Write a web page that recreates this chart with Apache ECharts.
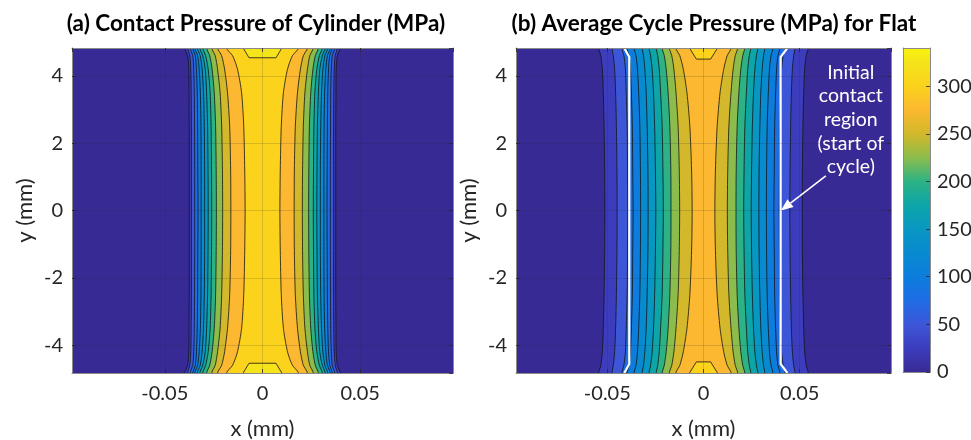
<!DOCTYPE html>
<html><head><meta charset="utf-8">
<script src="https://cdn.jsdelivr.net/npm/echarts@6/dist/echarts.min.js"></script>
<style>html,body{margin:0;padding:0;background:#fff}#c{width:971px;height:440px}</style>
</head><body><div id="c"></div>
<script>
// ---------------- data ----------------
const titles = ['(a) Contact Pressure of Cylinder (MPa)', '(b) Average Cycle Pressure (MPa) for Flat'];
const xRange = [-0.0975, 0.0975];          // x (mm)
const yRange = [-4.83, 4.83];              // y (mm)
const yAbs = [0, 1.2, 2.5, 3.5, 4.2, 4.6, 4.83];   // |y| rows where contour half-widths were read (mm)

// (a) cylinder: contour levels (MPa) and their half-width |x| (mm) at each yAbs row
const cylLevels = [25, 50, 75, 100, 125, 150, 175, 200, 225, 250, 275, 300];
const cylHalfWidth = [
  [0.0375, 0.0375, 0.0375, 0.0376, 0.0377, 0.0383, 0.0398],
  [0.0364, 0.0364, 0.0364, 0.0365, 0.0367, 0.0372, 0.0383],
  [0.0347, 0.0347, 0.0348, 0.0349, 0.0352, 0.0357, 0.0370],
  [0.0330, 0.0331, 0.0332, 0.0334, 0.0338, 0.0344, 0.0357],
  [0.0314, 0.0314, 0.0315, 0.0318, 0.0324, 0.0332, 0.0347],
  [0.0296, 0.0296, 0.0298, 0.0302, 0.0309, 0.0319, 0.0334],
  [0.0278, 0.0279, 0.0281, 0.0286, 0.0293, 0.0306, 0.0321],
  [0.0260, 0.0261, 0.0263, 0.0268, 0.0278, 0.0291, 0.0306],
  [0.0236, 0.0237, 0.0240, 0.0247, 0.0258, 0.0270, 0.0286],
  [0.0204, 0.0205, 0.0209, 0.0217, 0.0230, 0.0242, 0.0260],
  [0.0162, 0.0163, 0.0168, 0.0179, 0.0194, 0.0209, 0.0230],
  [0.0089, 0.0091, 0.0096, 0.0107, 0.0128, 0.0153, 0.0184]
];
const cylCapLevel = 325;                  // small end caps at y = +/-4.83
const cylCapY = [4.54, 4.83];
const cylCapHalfWidth = [0.0069, 0.0099];

// (b) flat: contour levels (MPa) and half-widths (mm)
const flatLevels = [25, 50, 75, 100, 125, 150, 175, 200, 225, 250, 275];
const flatHalfWidth = [
  [0.0513, 0.0514, 0.0517, 0.0521, 0.0526, 0.0534, 0.0545],
  [0.0449, 0.0450, 0.0453, 0.0457, 0.0462, 0.0469, 0.0476],
  [0.0394, 0.0395, 0.0397, 0.0402, 0.0406, 0.0414, 0.0424],
  [0.0366, 0.0368, 0.0370, 0.0375, 0.0380, 0.0387, 0.0398],
  [0.0327, 0.0328, 0.0331, 0.0337, 0.0343, 0.0351, 0.0361],
  [0.0288, 0.0289, 0.0293, 0.0298, 0.0305, 0.0312, 0.0319],
  [0.0248, 0.0250, 0.0254, 0.0260, 0.0267, 0.0275, 0.0283],
  [0.0209, 0.0211, 0.0215, 0.0223, 0.0230, 0.0238, 0.0246],
  [0.0169, 0.0170, 0.0175, 0.0184, 0.0194, 0.0204, 0.0215],
  [0.0124, 0.0126, 0.0132, 0.0143, 0.0154, 0.0165, 0.0178],
  [0.0059, 0.0062, 0.0071, 0.0086, 0.0105, 0.0123, 0.0144]
];
const flatCapLevel = 300;
const flatCapY = [4.5, 4.83];
const flatCapHalfWidth = [0.0037, 0.0073];

// initial contact region boundary (white line) in (b)
const initY = [-4.83, -4.56, 4.56, 4.83];
const initLeftX = [-0.0412, -0.0386, -0.0386, -0.0412];
const initRightX = [0.0436, 0.0401, 0.0401, 0.0436];
const annotText = ['Initial', 'contact', 'region', '(start of', 'cycle)'];
const annotAt = [0.0766, 2.70];
const arrowFrom = [0.0636, 1.03];
const arrowTo = [0.0403, 0.0];

// colour bar
const cbarMin = 0, cbarMax = 340, cbarStep = 50;

// ---------------- style ----------------
const cmapStops = [
  [0, '#382a95'], [25, '#3b3dbd'], [50, '#3d56d8'], [75, '#1f6de5'], [100, '#0c7ddd'],
  [125, '#088ad0'], [150, '#0897c2'], [175, '#0da5a8'], [200, '#2cb284'], [225, '#8cbd4c'],
  [250, '#d2b82a'], [275, '#fbb830'], [300, '#fbd21c'], [325, '#f5e41a'], [340, '#f9f30e']
];
const FONT = 'Lato, "Open Sans", sans-serif';
const TXT = '#262626';
const FRAME = '#8a8a8a';
const LINE = '#141414';
const TICK_FS = 20, NAME_FS = 22, TITLE_FS = 22.5;

function hex2rgb(h) { return [1, 3, 5].map(i => parseInt(h.substr(i, 2), 16)); }
function colorAt(v) {
  for (let i = 0; i < cmapStops.length - 1; i++) {
    const [a, ca] = cmapStops[i], [b, cb] = cmapStops[i + 1];
    if (v >= a && v <= b) {
      const t = (v - a) / (b - a), p = hex2rgb(ca), q = hex2rgb(cb);
      return 'rgb(' + p.map((x, k) => Math.round(x + (q[k] - x) * t)).join(',') + ')';
    }
  }
  return cmapStops[cmapStops.length - 1][1];
}

// full y list (bottom -> top) and the row index into yAbs for each
const yRows = [];
for (let k = yAbs.length - 1; k >= 1; k--) yRows.push([-yAbs[k], k]);
for (let k = 0; k < yAbs.length; k++) yRows.push([yAbs[k], k]);
const EXT = 5.6; // beyond plot edge (clipped)

function contourRenderer(levels, hw, capLevel, capY, capHW, extra) {
  return function (params, api) {
    const fills = [], lines = [];
    const last = yAbs.length - 1;
    levels.forEach((lvl, i) => {
      const w = hw[i];
      const left = [api.coord([-w[last], -EXT])].concat(yRows.map(([y, k]) => api.coord([-w[k], y])), [api.coord([-w[last], EXT])]);
      const right = [api.coord([w[last], EXT])].concat(yRows.slice().reverse().map(([y, k]) => api.coord([w[k], y])), [api.coord([w[last], -EXT])]);
      fills.push({ type: 'polygon', shape: { points: left.concat(right), smooth: 0.25 }, style: { fill: colorAt(lvl), stroke: null } });
      lines.push({ type: 'polyline', shape: { points: left, smooth: 0.25 }, style: { stroke: LINE, lineWidth: 0.8, fill: null } });
      lines.push({ type: 'polyline', shape: { points: right, smooth: 0.25 }, style: { stroke: LINE, lineWidth: 0.8, fill: null } });
    });
    [1, -1].forEach(s => {
      const pts = [api.coord([-capHW[1], s * EXT]), api.coord([-capHW[1], s * capY[1]]), api.coord([-capHW[0], s * capY[0]]),
                   api.coord([capHW[0], s * capY[0]]), api.coord([capHW[1], s * capY[1]]), api.coord([capHW[1], s * EXT])];
      fills.push({ type: 'polygon', shape: { points: pts }, style: { fill: colorAt(capLevel) } });
      lines.push({ type: 'polyline', shape: { points: pts.slice(1, 5) }, style: { stroke: LINE, lineWidth: 0.8, fill: null } });
    });
    const children = fills.concat(lines);
    if (extra) extra(api, children);
    return { type: 'group', children };
  };
}

function flatExtras(api, children) {
  [initLeftX, initRightX].forEach(xs => {
    children.push({ type: 'polyline', shape: { points: initY.map((y, i) => api.coord([xs[i], y])) },
      style: { stroke: '#ffffff', lineWidth: 2.2, fill: null } });
  });
  const a = api.coord(arrowFrom), b = api.coord(arrowTo);
  const dx = b[0] - a[0], dy = b[1] - a[1], L = Math.hypot(dx, dy), ux = dx / L, uy = dy / L;
  const hl = 12, hwid = 5;
  const base = [b[0] - ux * hl, b[1] - uy * hl];
  children.push({ type: 'line', shape: { x1: a[0], y1: a[1], x2: base[0], y2: base[1] }, style: { stroke: '#fff', lineWidth: 1.6 } });
  children.push({ type: 'polygon', shape: { points: [b, [base[0] - uy * hwid, base[1] + ux * hwid], [base[0] + uy * hwid, base[1] - ux * hwid]] }, style: { fill: '#fff' } });
  const t = api.coord(annotAt);
  children.push({ type: 'text', x: t[0], y: t[1], style: { text: annotText.join('\n'), fill: '#fff', font: '19.5px ' + FONT, align: 'center', verticalAlign: 'middle', lineHeight: 23.7 } });
}

function cbarRender(params, api) {
  const p0 = api.coord([0, cbarMax]), p1 = api.coord([1, cbarMin]);
  return { type: 'rect', shape: { x: p0[0], y: p0[1], width: p1[0] - p0[0], height: p1[1] - p0[1] },
    style: { fill: new echarts.graphic.LinearGradient(0, 1, 0, 0, cmapStops.map(([v, c]) => ({ offset: (v - cbarMin) / (cbarMax - cbarMin), color: c }))) } };
}

const chart = echarts.init(document.getElementById('c'), null, { renderer: 'canvas' });
const grids = [
  { left: 72, top: 48, width: 381, height: 325 },
  { left: 516, top: 48, width: 375, height: 325 },
  { left: 903, top: 48, width: 27, height: 324 }
].map(g => Object.assign(g, { show: true, backgroundColor: colorAt(0), borderWidth: 0, containLabel: false, outerBoundsMode: 'none' }));
grids[2].backgroundColor = 'transparent';

const tickInside = { show: true, inside: true, length: 4, lineStyle: { color: TXT, width: 0.8 } };
const axLine = { show: true, onZero: false, lineStyle: { color: FRAME, width: 1 } };
const gridLine = { show: true, lineStyle: { color: 'rgba(40,40,40,0.16)', width: 1 } };
const lab = { color: TXT, fontFamily: FONT, fontSize: TICK_FS, showMinLabel: false, showMaxLabel: false };
const nameStyle = { color: TXT, fontFamily: FONT, fontSize: NAME_FS };

function xAx(gi, pos, main) {
  return { type: 'value', gridIndex: gi, position: pos, min: xRange[0], max: xRange[1], splitNumber: 4, z: 10,
    axisLine: axLine, axisTick: tickInside, splitLine: main ? gridLine : { show: false },
    axisLabel: main ? Object.assign({ margin: 11 }, lab) : { show: false },
    name: main ? 'x (mm)' : '', nameLocation: 'middle', nameGap: 45, nameTextStyle: nameStyle };
}
function yAx(gi, pos, main) {
  return { type: 'value', gridIndex: gi, position: pos, min: yRange[0], max: yRange[1], splitNumber: 5, z: 10,
    axisLine: axLine, axisTick: tickInside, splitLine: main ? gridLine : { show: false },
    axisLabel: main ? Object.assign({ margin: 9 }, lab) : { show: false },
    name: main ? 'y (mm)' : '', nameLocation: 'middle', nameGap: 36, nameTextStyle: nameStyle };
}

chart.setOption({
  animation: false,
  backgroundColor: '#ffffff',
  title: [
    { text: titles[0], left: 256, top: 12, textAlign: 'center', padding: 0, textStyle: { fontFamily: FONT, fontWeight: 'bold', fontSize: TITLE_FS, color: '#000' } },
    { text: titles[1], left: 714, top: 12, textAlign: 'center', padding: 0, textStyle: { fontFamily: FONT, fontWeight: 'bold', fontSize: TITLE_FS, color: '#000' } }
  ],
  grid: grids,
  xAxis: [
    xAx(0, 'bottom', true), xAx(0, 'top', false), xAx(1, 'bottom', true), xAx(1, 'top', false),
    { type: 'value', gridIndex: 2, min: 0, max: 1, position: 'bottom', z: 10, axisLine: axLine, axisTick: { show: false }, axisLabel: { show: false }, splitLine: { show: false } },
    { type: 'value', gridIndex: 2, min: 0, max: 1, position: 'top', z: 10, axisLine: axLine, axisTick: { show: false }, axisLabel: { show: false }, splitLine: { show: false } }
  ],
  yAxis: [
    yAx(0, 'left', true), yAx(0, 'right', false), yAx(1, 'left', true), yAx(1, 'right', false),
    { type: 'value', gridIndex: 2, position: 'right', min: cbarMin, max: cbarMax, interval: cbarStep, z: 10,
      axisLine: axLine, axisTick: { show: true, inside: true, length: 4, lineStyle: { color: TXT, width: 0.8 } }, splitLine: { show: false },
      axisLabel: { color: TXT, fontFamily: FONT, fontSize: TICK_FS, margin: 7, showMaxLabel: false } },
    { type: 'value', gridIndex: 2, position: 'left', min: cbarMin, max: cbarMax, z: 10, axisLine: axLine, axisTick: { show: false }, axisLabel: { show: false }, splitLine: { show: false } }
  ],
  series: [
    { type: 'custom', name: 'Cylinder contact pressure', xAxisIndex: 0, yAxisIndex: 0, clip: true, silent: true,
      data: [[0, 0]], renderItem: contourRenderer(cylLevels, cylHalfWidth, cylCapLevel, cylCapY, cylCapHalfWidth, null) },
    { type: 'custom', name: 'Flat average cycle pressure', xAxisIndex: 2, yAxisIndex: 2, clip: true, silent: true,
      data: [[0, 0]], renderItem: contourRenderer(flatLevels, flatHalfWidth, flatCapLevel, flatCapY, flatCapHalfWidth, flatExtras) },
    { type: 'custom', name: 'Colour bar', xAxisIndex: 4, yAxisIndex: 4, clip: true, silent: true,
      data: [[0.5, 170]], renderItem: cbarRender }
  ]
});
</script>
</body></html>
